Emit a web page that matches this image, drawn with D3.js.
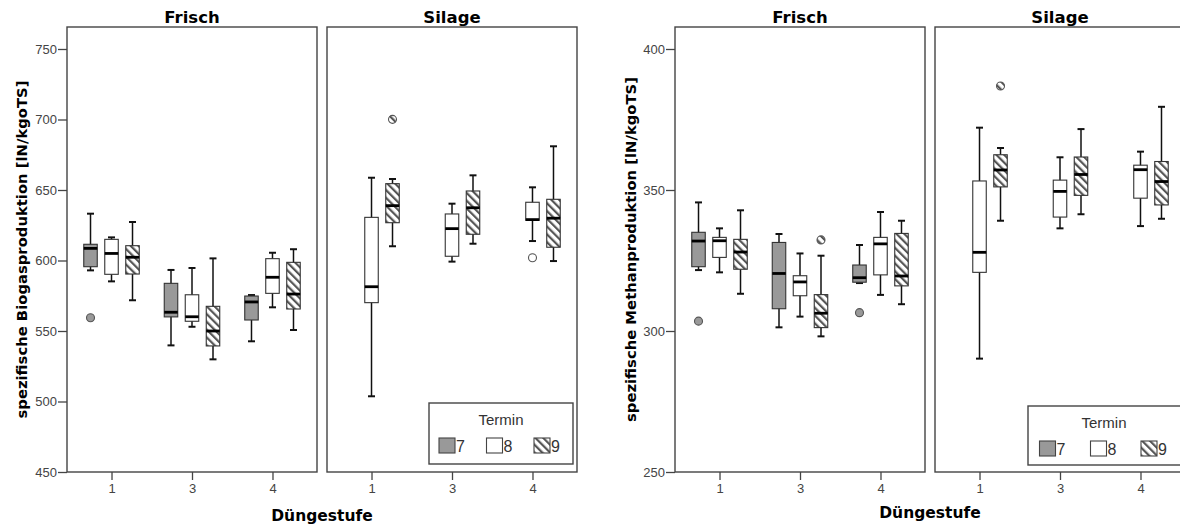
<!DOCTYPE html>
<html><head><meta charset="utf-8">
<script src="https://cdn.jsdelivr.net/npm/d3@7"></script>
<style>body{margin:0;background:#fff} svg{display:block}</style>
</head><body><svg id="chart" width="1180" height="526"></svg>
<script>
// ---------- DATA ----------
const duengestufen = ["1", "3", "4"];
const termine = ["7", "8", "9"];
const lagerungen = ["Frisch", "Silage"];
const biogasTicks = [450, 500, 550, 600, 650, 700, 750];
const methanTicks = [250, 300, 350, 400];

// [lower whisker, Q1, median, Q3, upper whisker] for Düngestufe 1, 3, 4
const biogasFrisch7 = [[593, 595.6, 608.6, 611.5, 633.2], [539.8, 560, 563.3, 583.8, 593.3], [542.7, 557.8, 570.6, 574.8, 575.5]];
const biogasFrisch8 = [[585.2, 590.2, 605, 615, 616.4], [553, 556.9, 560.1, 575.7, 594.7], [566.8, 576.7, 588.1, 601.3, 605.5]];
const biogasFrisch9 = [[571.8, 590.4, 602.3, 610.5, 627.3], [529.9, 539.4, 550, 567.5, 601.5], [550.7, 565.6, 576.2, 598.7, 608]];
const biogasSilage8 = [[503.7, 570.1, 581.4, 630.6, 658.7], [599.2, 603, 622.6, 633, 640.3], [613.8, 628.5, 629, 641.3, 651.9]];
const biogasSilage9 = [[610.1, 626.8, 638.9, 654.5, 657.8], [611.9, 618.6, 637.4, 649.3, 660.4], [599.6, 609.4, 630, 643.4, 681]];
// outliers: [Lagerung, Termin, Düngestufe, value]
const biogasOutliers = [["Frisch", "7", "1", 559.4], ["Silage", "9", "1", 700.1], ["Silage", "8", "4", 602]];

const methanFrisch7 = [[321.6, 322.8, 331.9, 335, 345.6], [301.3, 307.9, 320.4, 331.4, 334.4], [317, 317.3, 318.9, 323.4, 330.5]];
const methanFrisch8 = [[320.8, 326.1, 332, 333.2, 336.4], [305.1, 312.5, 317.4, 319.6, 327.5], [312.8, 319.9, 330.9, 333.2, 342.2]];
const methanFrisch9 = [[313.2, 321.9, 328, 332.5, 342.8], [298.1, 301.2, 306.3, 312.9, 326.7], [309.5, 316, 319.5, 334.6, 339.1]];
const methanSilage8 = [[290.2, 320.8, 327.9, 353.2, 372.1], [336.4, 340.4, 349.5, 353.5, 361.6], [337.2, 347.1, 357.2, 358.8, 363.6]];
const methanSilage9 = [[339.1, 351.1, 357.1, 362.5, 364.9], [341.4, 348.1, 355.5, 361.7, 371.6], [339.8, 344.7, 353, 360.1, 379.5]];
const methanOutliers = [["Frisch", "7", "1", 303.5], ["Frisch", "9", "3", 332.3], ["Frisch", "7", "4", 306.5], ["Silage", "9", "1", 386.9]];

// ---------- LAYOUT ----------
const charts = [
  {
    ylabel: "spezifische Biogasproduktion [lN/kgoTS]", ticks: biogasTicks, domain: [450, 765.6],
    panels: [[67, 317], [327, 577]], top: 27, bottom: 472, ylabelX: 21, xlabelX: 322, xlabelY: 521,
    series: { Frisch: { "7": biogasFrisch7, "8": biogasFrisch8, "9": biogasFrisch9 }, Silage: { "8": biogasSilage8, "9": biogasSilage9 } },
    outliers: biogasOutliers,
    legend: { x: 429, y: 403, w: 144, h: 61, sw: [10, 57.5, 105], swY: 35, titleY: 22 }
  },
  {
    ylabel: "spezifische Methanproduktion [lN/kgoTS]", ticks: methanTicks, domain: [250, 407.8],
    panels: [[675, 925], [935, 1185]], top: 27, bottom: 472, ylabelX: 630, xlabelX: 930, xlabelY: 518,
    series: { Frisch: { "7": methanFrisch7, "8": methanFrisch8, "9": methanFrisch9 }, Silage: { "8": methanSilage8, "9": methanSilage9 } },
    outliers: methanOutliers,
    legend: { x: 1028, y: 406, w: 170, h: 59, sw: [11.5, 62.5, 113], swY: 35, titleY: 22 }
  }
];

const svg = d3.select("#chart");
const defs = svg.append("defs");
const hatch = defs.append("pattern").attr("id", "hatch").attr("patternUnits", "userSpaceOnUse")
  .attr("width", 5.5).attr("height", 5.5).attr("patternTransform", "rotate(-45)");
hatch.append("rect").attr("width", 5.5).attr("height", 5.5).attr("fill", "#fff");
hatch.append("rect").attr("width", 2.2).attr("height", 5.5).attr("fill", "#555");

const fills = { "7": "#999999", "8": "#ffffff", "9": "url(#hatch)" };
const boxW = 13.5, capW = 7;
const tickFont = "'Liberation Sans', Arial, sans-serif";
const boldFont = "'DejaVu Sans', Verdana, sans-serif";

charts.forEach(ch => {
  const y = d3.scaleLinear().domain(ch.domain).range([ch.bottom, ch.top]);
  const xT = d3.scalePoint().domain(termine).range([-21, 21]);

  // y axis
  const yAxis = d3.axisLeft(y).tickValues(ch.ticks).tickSize(9).tickPadding(1).tickFormat(d3.format("d"));
  const ya = svg.append("g").attr("transform", `translate(${ch.panels[0][0]},0)`).call(yAxis);
  ya.select(".domain").remove();
  ya.selectAll(".tick line").attr("stroke", "#444").attr("stroke-width", 1.3);
  ya.selectAll(".tick text").attr("font-family", tickFont).attr("font-size", 13).attr("fill", "#444");

  svg.append("text").attr("transform", `translate(${ch.ylabelX},${(ch.top + ch.bottom) / 2}) rotate(-90)`)
    .attr("text-anchor", "middle").attr("dominant-baseline", "central")
    .attr("font-family", boldFont).attr("font-weight", "bold").attr("font-size", 14.8)
    .text(ch.ylabel);

  svg.append("text").attr("x", ch.xlabelX).attr("y", ch.xlabelY).attr("text-anchor", "middle")
    .attr("font-family", boldFont).attr("font-weight", "bold").attr("font-size", 15.5)
    .text("Düngestufe");

  lagerungen.forEach((lag, pi) => {
    const [x0, x1] = ch.panels[pi];
    const x = d3.scalePoint().domain(duengestufen).range([x0, x1]).padding(0.553);
    const g = svg.append("g");

    // panel frame
    g.append("rect").attr("x", x0).attr("y", ch.top).attr("width", x1 - x0).attr("height", ch.bottom - ch.top)
      .attr("fill", "none").attr("stroke", "#444").attr("stroke-width", 1.4);

    // title
    g.append("text").attr("x", (x0 + x1) / 2).attr("y", ch.top - 4).attr("text-anchor", "middle")
      .attr("font-family", boldFont).attr("font-weight", "bold").attr("font-size", 16.5).text(lag);

    // x axis
    const xa = svg.append("g").attr("transform", `translate(0,${ch.bottom})`)
      .call(d3.axisBottom(x).tickSize(8).tickPadding(4));
    xa.select(".domain").remove();
    xa.selectAll(".tick line").attr("stroke", "#444").attr("stroke-width", 1.3);
    xa.selectAll(".tick text").attr("font-family", tickFont).attr("font-size", 13).attr("fill", "#444");

    const ser = ch.series[lag];
    Object.keys(ser).forEach(t => {
      ser[t].forEach((s, i) => {
        if (!s) return;
        const cx = x(duengestufen[i]) + xT(t);
        const [lo, q1, med, q3, hi] = s;
        const bg = g.append("g");
        bg.append("line").attr("x1", cx).attr("x2", cx).attr("y1", y(lo)).attr("y2", y(hi))
          .attr("stroke", "#111").attr("stroke-width", 1.5);
        [lo, hi].forEach(v => bg.append("line").attr("x1", cx - capW / 2).attr("x2", cx + capW / 2)
          .attr("y1", y(v)).attr("y2", y(v)).attr("stroke", "#111").attr("stroke-width", 2));
        bg.append("rect").attr("x", cx - boxW / 2).attr("y", y(q3)).attr("width", boxW).attr("height", y(q1) - y(q3))
          .attr("fill", fills[t]).attr("stroke", "#333").attr("stroke-width", 1.1);
        bg.append("line").attr("x1", cx - boxW / 2).attr("x2", cx + boxW / 2).attr("y1", y(med)).attr("y2", y(med))
          .attr("stroke", "#000").attr("stroke-width", 2.8);
      });
    });

    ch.outliers.filter(o => o[0] === lag).forEach(o => {
      const cx = x(o[2]) + xT(o[1]);
      g.append("circle").attr("cx", cx).attr("cy", y(o[3])).attr("r", 4)
        .attr("fill", fills[o[1]]).attr("stroke", "#555").attr("stroke-width", 1.1);
    });
  });

  // legend
  const L = ch.legend;
  const lg = svg.append("g").attr("transform", `translate(${L.x},${L.y})`);
  lg.append("rect").attr("width", L.w).attr("height", L.h).attr("fill", "#fff").attr("stroke", "#444").attr("stroke-width", 1.4);
  lg.append("text").attr("x", L.w === 144 ? L.w / 2 : 76).attr("y", L.titleY).attr("text-anchor", "middle")
    .attr("font-family", tickFont).attr("font-size", 15).attr("fill", "#333").text("Termin");
  termine.forEach((t, i) => {
    lg.append("rect").attr("x", L.sw[i]).attr("y", L.swY).attr("width", 16).attr("height", 15)
      .attr("fill", fills[t]).attr("stroke", "#444").attr("stroke-width", 1.1);
    lg.append("text").attr("x", L.sw[i] + 17).attr("y", L.swY + 14)
      .attr("font-family", tickFont).attr("font-size", 16).attr("fill", "#333").text(t);
  });
});
</script></body></html>
